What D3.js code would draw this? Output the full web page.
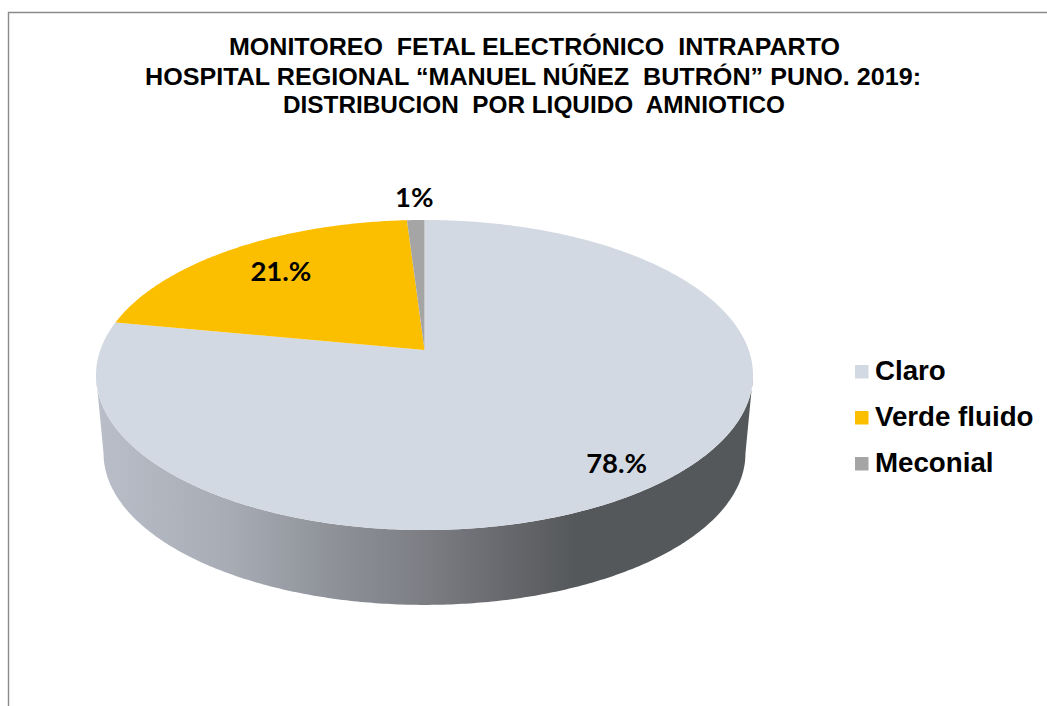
<!DOCTYPE html>
<html><head><meta charset="utf-8">
<script src="https://cdn.jsdelivr.net/npm/d3@7"></script>
<style>html,body{margin:0;padding:0;background:#fff}svg{display:block}</style>
</head><body><svg id="c" width="1047" height="706"></svg>
<script>
const titleLines = ["MONITOREO  FETAL ELECTRÓNICO  INTRAPARTO","HOSPITAL REGIONAL “MANUEL NÚÑEZ  BUTRÓN” PUNO. 2019:","DISTRIBUCION  POR LIQUIDO  AMNIOTICO"];
const categories = ["Claro","Verde fluido","Meconial"];
const values = [78,21,1];
const valueLabels = ["78.%","21.%","1%"];
const colors = ["#d3d9e2","#fcbf00","#a5a5a5"];

const svg = d3.select("#c");
const cx=424.5, cy=350, A=324.2, B=151, k=0.1613, dy=79, s=0.977;
// perspective projection of the unit disc
const proj=(t,r=1,sc=1,off=0)=>{const u=r*Math.sin(t),v=r*Math.cos(t),d=1+k*v;
  return [cx+sc*A*u/d, cy+off-sc*B*v/d];};
const pie=d3.pie().sort(null).value(d=>d)(values);
const line=d3.line();
const arcPts=(a,b,sc,off)=>{const n=Math.max(4,Math.ceil((b-a)/0.01));
  return d3.range(n+1).map(i=>proj(a+(b-a)*i/n,1,sc,off));};

// frame
svg.append("path").attr("d","M8.5,706V12.5H1047").attr("fill","none").attr("stroke","#8b8b8b").attr("stroke-width",1.4);

// title
const tw=[[229,840],[145,921],[283,785]], ty=[55,85,113];
svg.append("g").selectAll("text").data(titleLines).join("text")
 .attr("x",(d,i)=>tw[i][0]).attr("y",(d,i)=>ty[i]).attr("textLength",(d,i)=>tw[i][1]-tw[i][0])
 .attr("lengthAdjust","spacingAndGlyphs").attr("xml:space","preserve").style("white-space","pre")
 .attr("font-family","'Liberation Sans',Arial,sans-serif").attr("font-weight",700).attr("font-size",24)
 .attr("fill","#000").text(d=>d);

// gradient for the rim
const defs=svg.append("defs");
const g=defs.append("linearGradient").attr("id","rim").attr("gradientUnits","userSpaceOnUse")
 .attr("x1",96).attr("x2",753).attr("y1",0).attr("y2",0);
[[0,"#b9bec8"],[.2,"#a8acb5"],[.35,"#90939a"],[.5,"#7c7e84"],[.62,"#68696e"],[.73,"#55585a"],[1,"#55585a"]]
 .forEach(([o,c])=>g.append("stop").attr("offset",o).attr("stop-color",c));

// rim (only the front, which belongs to the first slice)
const ext=Math.PI/2+Math.asin(k);
const front=[ext,2*Math.PI-ext];
const rimPts=[...arcPts(front[0],front[1],1,0),...arcPts(front[0],front[1],s,dy).reverse()];
svg.append("path").attr("d",line(rimPts)+"Z").attr("fill","url(#rim)");

// top surface
svg.append("g").selectAll("path").data(pie).join("path")
 .attr("d",d=>line([[cx,cy],...arcPts(d.startAngle,d.endAngle,1,0)])+"Z")
 .attr("fill",(d,i)=>colors[i]);

// value labels
const labelR=[.845,.74,1.2], labelShift=[[-3,3],[2,-2],[0,-1]];
svg.append("g").selectAll("text").data(pie).join("text")
 .attr("transform",(d,i)=>{const p=proj((d.startAngle+d.endAngle)/2,labelR[i]);
   return `translate(${p[0]+labelShift[i][0]},${p[1]+labelShift[i][1]})`;})
 .attr("text-anchor","middle").attr("dy","0.36em")
 .attr("font-family","Lato,sans-serif").attr("font-weight",700).attr("font-size",27.5).attr("fill","#000")
 .text((d,i)=>valueLabels[i]);

// legend
const ly=d3.scalePoint().domain(categories).range([372,464]);
const lg=svg.append("g").selectAll("g").data(categories).join("g").attr("transform",d=>`translate(855,${ly(d)})`);
lg.append("rect").attr("y",-7).attr("width",13.5).attr("height",13.5).attr("fill",(d,i)=>colors[i]);
lg.append("text").attr("x",20).attr("y",8).attr("font-family","'Liberation Sans',Arial,sans-serif")
 .attr("font-weight",700).attr("font-size",27.7).attr("fill","#000").text(d=>d);
</script></body></html>
